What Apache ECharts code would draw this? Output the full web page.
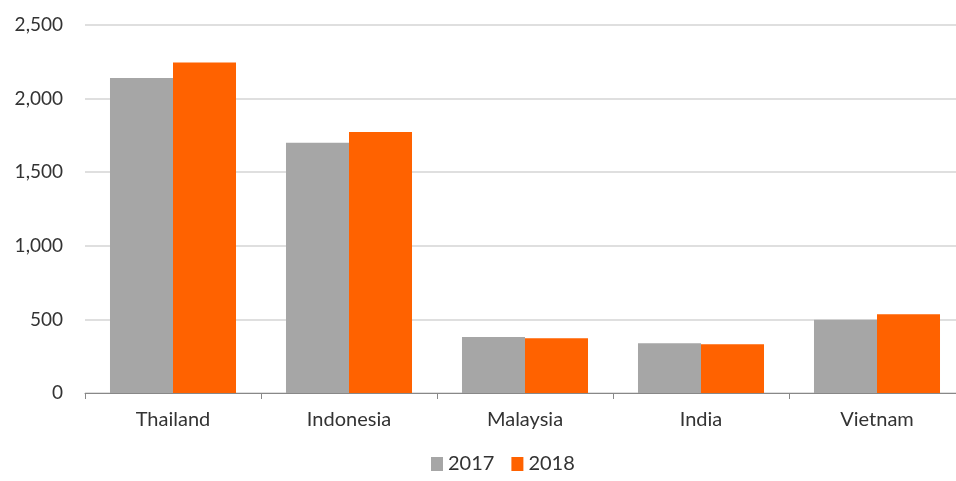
<!DOCTYPE html>
<html>
<head>
<meta charset="utf-8">
<script src="https://cdn.jsdelivr.net/npm/echarts@6/dist/echarts.min.js"></script>
<style>
  html, body { margin: 0; padding: 0; background: #fff; overflow: hidden; }
  #wrap { width: 956px; height: 481px; overflow: hidden; }
  #main { width: 970px; height: 481px; }
</style>
</head>
<body>
<div id="wrap"><div id="main"></div></div>
<script>
var categories = ['Thailand', 'Indonesia', 'Malaysia', 'India', 'Vietnam'];
var values2017 = [2140, 1700, 380, 338, 498];
var values2018 = [2245, 1773, 372, 331, 535];

var chart = echarts.init(document.getElementById('main'));
var fontFamily = 'Lato, sans-serif';

var option = {
    animation: false,
    textStyle: { fontFamily: fontFamily },
    legend: {
        bottom: 2,
        left: 426,
        itemWidth: 12,
        itemHeight: 14,
        itemGap: 17,
        icon: 'rect',
        textStyle: { color: '#333', fontSize: 20, fontFamily: fontFamily },
        data: ['2017', '2018']
    },
    grid: {
        left: 85,
        right: 5,
        top: 25,
        bottom: 88
    },
    xAxis: {
        type: 'category',
        data: categories,
        axisLine: { lineStyle: { color: '#888' } },
        axisTick: { show: true, length: 6, lineStyle: { color: '#888' } },
        axisLabel: { color: '#333', fontSize: 20, margin: 17 }
    },
    yAxis: {
        type: 'value',
        min: 0,
        max: 2500,
        interval: 500,
        axisLine: { show: false },
        axisTick: { show: false },
        splitLine: { lineStyle: { color: '#d4d4d4', width: 1.5 } },
        axisLabel: {
            color: '#333',
            fontSize: 19,
            margin: 22,
            formatter: function (v) { return v.toLocaleString('en-US'); }
        }
    },
    series: [
        {
            name: '2017',
            type: 'bar',
            data: values2017,
            barGap: '0%',
            barCategoryGap: '28.4%',
            itemStyle: { color: '#a6a6a6' }
        },
        {
            name: '2018',
            type: 'bar',
            data: values2018,
            barGap: '0%',
            barCategoryGap: '28.4%',
            itemStyle: { color: '#ff6200' }
        }
    ]
};

chart.setOption(option);
</script>
</body>
</html>
